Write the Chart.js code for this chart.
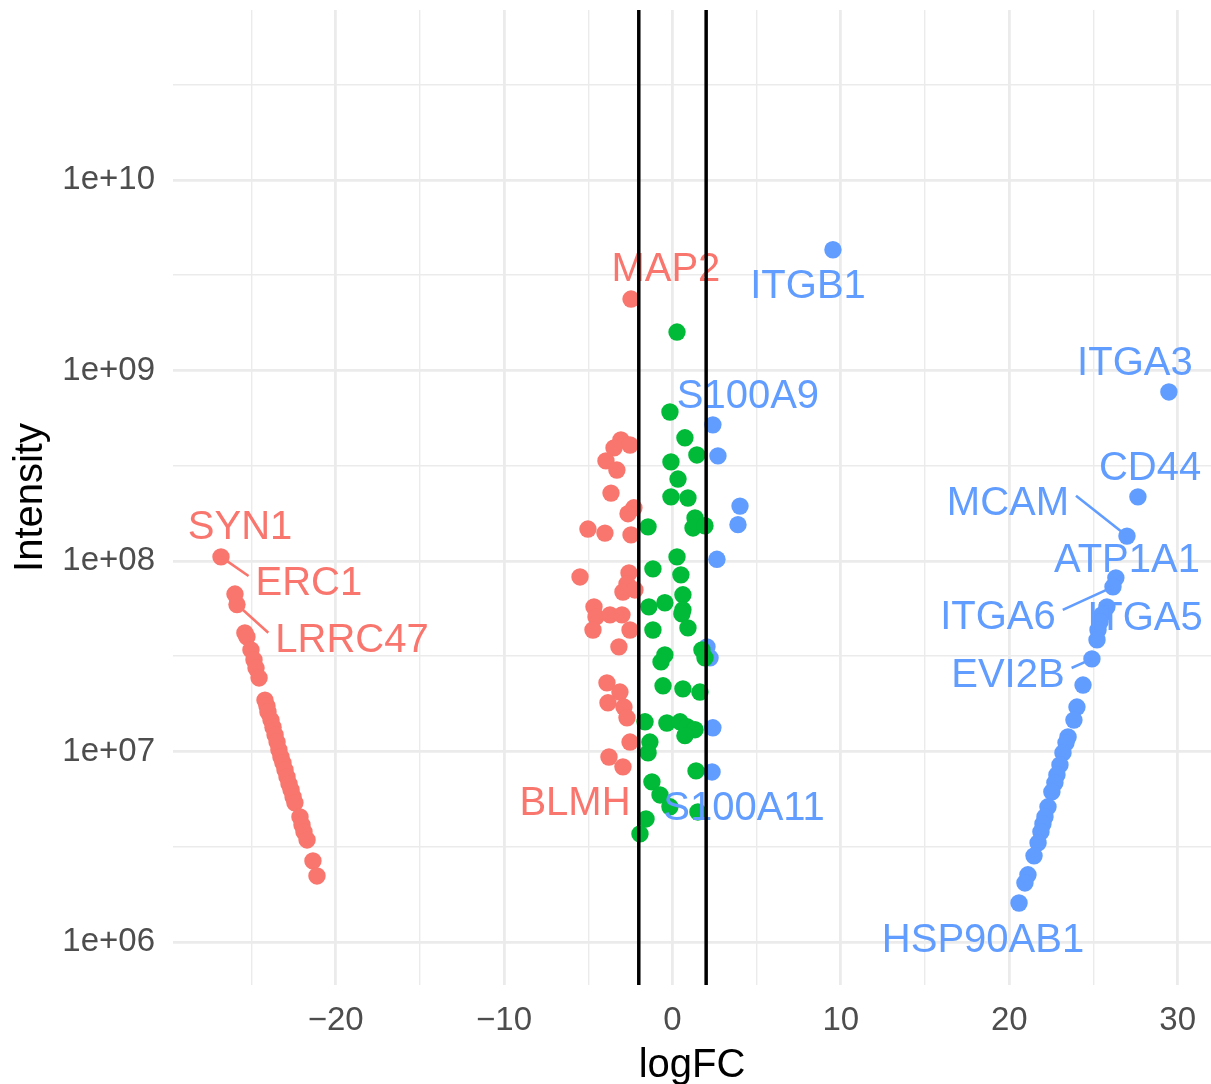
<!DOCTYPE html>
<html>
<head>
<meta charset="utf-8">
<script src="https://cdn.jsdelivr.net/npm/chart.js@4.4.1/dist/chart.umd.min.js"></script>
<style>
  html, body { margin: 0; padding: 0; background: #ffffff; }
  #wrap { width: 1211px; height: 1084px; }
</style>
</head>
<body>
<div id="wrap"><canvas id="c" width="1211" height="1084"></canvas></div>
<script>
// Down-regulated proteins (logFC < -2)
const downLogFC = [-26.81,-25.98,-25.86,-25.39,-25.27,-25.03,-24.85,-24.73,-24.55,-24.20,-24.08,-24.02,-23.84,-23.72,-23.60,-23.48,-23.37,-23.25,-23.13,-23.01,-22.89,-22.77,-22.65,-22.53,-22.42,-22.12,-22.00,-21.88,-21.70,-21.35,-21.11,
  -2.46,-3.06,-2.52,-3.47,-3.95,-3.30,-3.65,-2.29,-2.64,-5.02,-4.01,-2.46,-5.49,-2.58,-2.70,-2.94,-2.23,-4.66,-4.54,-3.71,-3.00,-4.72,-2.52,-3.18,-3.89,-3.12,-3.83,-2.88,-2.70,-2.52,-3.77,-2.94];
const downIntensity = [1.05e8,6.7e7,5.9e7,4.19e7,3.99e7,3.41e7,3.02e7,2.74e7,2.43e7,1.86e7,1.73e7,1.61e7,1.46e7,1.34e7,1.22e7,1.12e7,1.02e7,9.35e6,8.7e6,8.0e6,7.35e6,6.75e6,6.28e6,5.77e6,5.37e6,4.53e6,4.11e6,3.78e6,3.43e6,2.66e6,2.22e6,
  2.37e9,4.32e8,4.06e8,3.92e8,3.35e8,3.0e8,2.27e8,1.90e8,1.77e8,1.47e8,1.40e8,1.37e8,8.24e7,8.65e7,7.57e7,6.87e7,7.04e7,5.74e7,5.08e7,5.21e7,5.21e7,4.34e7,4.34e7,3.54e7,2.29e7,2.05e7,1.80e7,1.71e7,1.50e7,1.12e7,9.35e6,8.3e6];

// Unchanged proteins (|logFC| < 2)
const nsLogFC = [0.27,-0.15,0.74,1.45,-0.09,0.33,-0.09,0.92,1.34,1.22,1.93,-1.45,0.27,-1.16,0.50,0.62,-0.45,-1.40,0.62,0.56,0.92,-1.16,-0.45,-0.68,1.75,1.93,-0.56,0.62,1.63,-1.63,-0.33,0.45,0.86,1.34,0.74,-1.34,-1.45,1.40,-1.22,-0.74,-0.15,1.51,-1.57,-1.93];
const nsIntensity = [1.59e9,6.05e8,4.43e8,3.60e8,3.31e8,2.69e8,2.17e8,2.14e8,1.68e8,1.49e8,1.53e8,1.51e8,1.05e8,9.08e7,8.45e7,6.64e7,6.03e7,5.74e7,5.54e7,5.27e7,4.45e7,4.34e7,3.21e7,2.95e7,3.41e7,3.10e7,2.21e7,2.13e7,2.05e7,1.43e7,1.41e7,1.43e7,1.35e7,1.30e7,1.21e7,1.12e7,9.82e6,7.9e6,6.92e6,5.91e6,5.12e6,4.81e6,4.42e6,3.69e6];

// Up-regulated proteins (logFC > 2)
const upLogFC = [9.53,2.40,2.70,4.01,3.89,2.64,2.05,2.23,2.40,2.35,
  29.48,27.64,26.99,26.33,26.16,25.80,25.50,25.39,25.27,25.21,24.91,24.38,24.02,23.84,23.49,23.37,23.19,23.01,22.83,22.71,22.53,22.30,22.12,22.00,21.88,21.71,21.47,21.11,20.93,20.58];
const upIntensity = [4.30e9,5.18e8,3.56e8,1.94e8,1.55e8,1.02e8,3.54e7,3.10e7,1.33e7,7.8e6,
  7.71e8,2.17e8,1.35e8,8.15e7,7.31e7,5.74e7,5.21e7,4.79e7,4.34e7,3.85e7,3.06e7,2.23e7,1.71e7,1.46e7,1.19e7,1.11e7,9.82e6,8.49e6,7.53e6,6.84e6,6.13e6,5.12e6,4.53e6,4.16e6,3.78e6,3.31e6,2.83e6,2.25e6,2.04e6,1.60e6];

// Gene labels: the labelled protein and where its text sits
const labelGenes    = ['SYN1','ERC1','LRRC47','MAP2','BLMH','ITGB1','S100A9','S100A11','ITGA3','CD44','MCAM','ATP1A1','ITGA6','ITGA5','EVI2B','HSP90AB1'];
const labelGroup    = ['down','down','down','down','down','up','up','up','up','up','up','up','up','up','up','up'];
const labelPointFC  = [-26.81,-26.81,-25.86,-2.46,-2.94,9.53,2.40,2.35,29.48,27.64,26.99,26.33,26.16,25.80,24.91,20.58];
const labelPointInt = [1.05e8,1.05e8,5.9e7,2.37e9,8.3e6,4.30e9,5.18e8,7.8e6,7.71e8,2.17e8,1.35e8,8.15e7,7.31e7,5.74e7,3.06e7,1.60e6];
const labelTextFC   = [-25.68,-21.59,-19.03,-0.39,-5.79,8.05,4.48,4.25,27.46,28.36,19.92,26.99,19.33,28.06,19.92,18.44];
const labelTextInt  = [1.56e8,7.85e7,3.95e7,3.49e9,5.50e6,2.85e9,7.54e8,5.18e6,1.12e9,3.16e8,2.07e8,1.04e8,5.21e7,5.14e7,2.58e7,1.05e6];
const labelSegment  = [false,true,true,false,false,false,false,false,false,false,true,false,true,false,true,false];

// Fold-change cut-offs
const thresholds = [-2, 2];

// Axis ticks (blank labels mark minor grid lines)
const xTickValues = [-25,-20,-15,-10,-5,0,5,10,15,20,25,30];
const xTickLabels = ['','\u221220','','\u221210','','0','','10','','20','','30'];
const yTickValues = [1e6,3.1623e6,1e7,3.1623e7,1e8,3.1623e8,1e9,3.1623e9,1e10,3.1623e10];
const yTickLabels = ['1e+06','','1e+07','','1e+08','','1e+09','','1e+10',''];

const FONT = '"Liberation Sans", Arial, Helvetica, sans-serif';
const colors = { down: '#F8766D', ns: '#00BA38', up: '#619CFF' };

const toPoints = (xs, ys) => xs.map((v, i) => ({ x: v, y: ys[i] }));

// Gene labels with leader segments, then the two cut-off lines on top
const annotate = {
  id: 'annotate',
  afterDatasetsDraw(chart) {
    const { ctx, chartArea, scales: { x, y } } = chart;
    ctx.save();
    ctx.font = '40px ' + FONT;
    ctx.textAlign = 'center';
    ctx.textBaseline = 'alphabetic';
    labelGenes.forEach((g, i) => {
      const col = colors[labelGroup[i]];
      const cx = x.getPixelForValue(labelTextFC[i]);
      const cy = y.getPixelForValue(labelTextInt[i]);
      const w = ctx.measureText(g).width;
      if (labelSegment[i]) {
        const px = x.getPixelForValue(labelPointFC[i]);
        const py = y.getPixelForValue(labelPointInt[i]);
        const ex = px > cx ? cx + w / 2 + 7 : cx - w / 2 - 7;
        const ey = cy - 5;
        ctx.strokeStyle = col;
        ctx.lineWidth = 2.6;
        ctx.beginPath();
        ctx.moveTo(px, py);
        ctx.lineTo(ex, ey);
        ctx.stroke();
      }
      ctx.fillStyle = col;
      ctx.fillText(g, cx, cy + 14.4);
    });
    ctx.strokeStyle = '#000000';
    ctx.lineWidth = 3.5;
    thresholds.forEach(t => {
      const px = x.getPixelForValue(t);
      ctx.beginPath();
      ctx.moveTo(px, chartArea.top);
      ctx.lineTo(px, chartArea.bottom);
      ctx.stroke();
    });
    ctx.restore();
  }
};

// Pin the plotting panel: no extra room reserved for overhanging tick labels
const fitX = s => { s.height = 99; s.paddingLeft = 0; s.paddingRight = 0; };
const fitY = s => { s.width = 173; s.paddingTop = 0; s.paddingBottom = 0; };

new Chart(document.getElementById('c'), {
  type: 'scatter',
  data: {
    datasets: [
      { label: 'NS', data: toPoints(nsLogFC, nsIntensity), backgroundColor: colors.ns, pointRadius: 8.7, borderWidth: 0 },
      { label: 'Down', data: toPoints(downLogFC, downIntensity), backgroundColor: colors.down, pointRadius: 8.7, borderWidth: 0 },
      { label: 'Up', data: toPoints(upLogFC, upIntensity), backgroundColor: colors.up, pointRadius: 8.7, borderWidth: 0 }
    ]
  },
  options: {
    responsive: false,
    animation: false,
    devicePixelRatio: 1,
    layout: { autoPadding: false, padding: { top: 10, right: 0, bottom: 0, left: 0 } },
    plugins: { legend: { display: false }, tooltip: { enabled: false } },
    scales: {
      x: {
        type: 'linear',
        min: -29.66,
        max: 31.98,
        afterBuildTicks: s => { s.ticks = xTickValues.map(v => ({ value: v })); },
        afterFit: fitX,
        grid: {
          color: '#EBEBEB',
          lineWidth: c => (xTickLabels[c.index] ? 2.8 : 1.4),
          drawTicks: false
        },
        border: { display: false },
        ticks: {
          autoSkip: false, maxRotation: 0, minRotation: 0, padding: 0,
          color: '#4D4D4D', font: { family: FONT, size: 33, lineHeight: 2.18 },
          callback: (v, i) => xTickLabels[i]
        },
        title: {
          display: true, text: 'logFC', color: '#000000',
          font: { family: FONT, size: 40, lineHeight: 1 },
          padding: { top: 0, bottom: -2 }
        }
      },
      y: {
        type: 'logarithmic',
        min: 5.94e5,
        max: 7.8e10,
        afterBuildTicks: s => { s.ticks = yTickValues.map(v => ({ value: v })); },
        afterFit: fitY,
        grid: {
          color: '#EBEBEB',
          lineWidth: c => (yTickLabels[c.index] ? 2.8 : 1.4),
          drawTicks: false
        },
        border: { display: false },
        ticks: {
          autoSkip: false, padding: 18,
          color: '#4D4D4D', font: { family: FONT, size: 33 },
          callback: (v, i) => yTickLabels[i]
        },
        title: {
          display: true, text: 'Intensity', color: '#000000',
          font: { family: FONT, size: 40, lineHeight: 1 },
          padding: { top: 11, bottom: 0 }
        }
      }
    }
  },
  plugins: [annotate]
});
</script>
</body>
</html>
